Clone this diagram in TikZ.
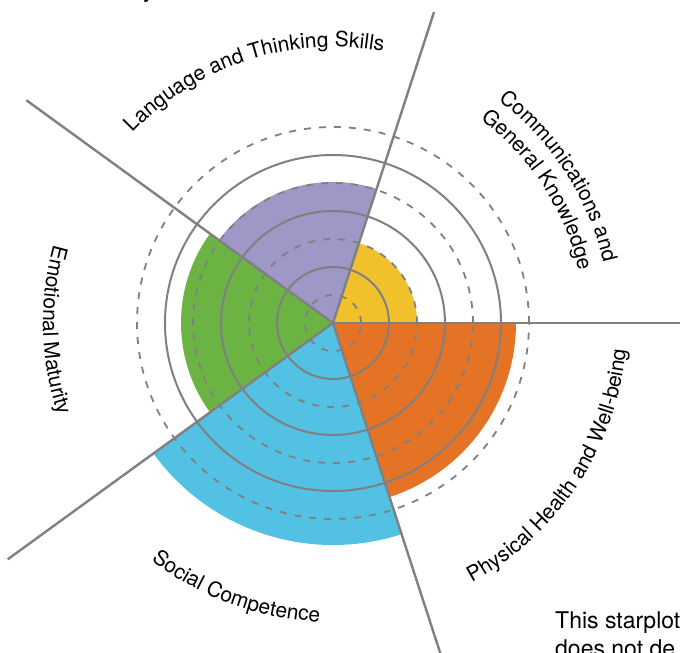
\documentclass[tikz,border=0pt]{standalone}
\usepackage{fontspec}
\setsansfont{TeX Gyre Heros}
\usetikzlibrary{decorations.text}

\definecolor{gridgray}{HTML}{808080}
\definecolor{commyellow}{HTML}{F0C12B}
\definecolor{langpurple}{HTML}{9E98C6}
\definecolor{emogreen}{HTML}{6BB444}
\definecolor{socblue}{HTML}{52C1E4}
\definecolor{physorange}{HTML}{E57325}

\newcommand{\lblfont}{\fontsize{21}{25}\selectfont\sffamily}

\begin{document}
\begin{tikzpicture}[
	x=1pt, y=1pt,
	font=\sffamily,
	grid-solid/.style={draw=gridgray, line width=2pt},
	grid-dash/.style={draw=gridgray, line width=1.8pt, dash pattern=on 7pt off 8pt},
	axis/.style={draw=gridgray, line width=2.4pt},
	curved-label/.style={decorate, decoration={text along path, text align=center, text={|\lblfont|#1}}},
	note-text/.style={anchor=base west, inner sep=0pt, font=\fontsize{23}{27.6}\selectfont\sffamily}
	]
	
	\useasboundingbox (-333,-330) rectangle (347,323);
	\clip (-333,-330) rectangle (347,323);
	\coordinate (ctr) at (0,0);
	
	% Sectors
	\fill[commyellow] (ctr) -- (0:84) arc[start angle=0, end angle=72, radius=84] -- cycle;
	\fill[langpurple] (ctr) -- (72:141) arc[start angle=72, end angle=144, radius=141] -- cycle;
	\fill[emogreen] (ctr) -- (144:152) arc[start angle=144, end angle=216, radius=152] -- cycle;
	\fill[socblue] (ctr) -- (216:222) arc[start angle=216, end angle=288, radius=222] -- cycle;
	\fill[physorange] (ctr) -- (288:183) arc[start angle=288, end angle=360, radius=183] -- cycle;
	
	% Rings
	\foreach \r in {56,112,168}
		\draw[grid-solid] (ctr) circle[radius=\r];
	\foreach \r in {28,84,140,196}
		\draw[grid-dash] (ctr) circle[radius=\r];
	
	% Axes
	\coordinate (ax_comm) at (0:360);
	\coordinate (ax_lang) at (72:327);
	\coordinate (ax_emo) at (144:379);
	\coordinate (ax_soc) at (216:402);
	\coordinate (ax_phys) at (288:360);
	\foreach \a in {ax_comm, ax_lang, ax_emo, ax_soc, ax_phys}
		\draw[axis] (ctr) -- (\a);
	
	% Labels
	\path[curved-label=Language and Thinking Skills] (136:276) arc[start angle=136, end angle=80, radius=276];
	\path[curved-label=Communications and] (62:277) arc[start angle=62, end angle=4, radius=277];
	\path[curved-label=General Knowledge] (62:251) arc[start angle=62, end angle=4, radius=251];
	\path[curved-label=Emotional Maturity] (160:290) arc[start angle=160, end angle=203, radius=290];
	\path[curved-label=Social Competence] (224:299) arc[start angle=224, end angle=276, radius=299];
	\path[curved-label=Physical Health and Well-being] (297:294) arc[start angle=297, end angle=356, radius=294];
	
	% Cut-off text
	\node[note-text] (top_line) at (-190,325) {y};
	\node[note-text] (note_a) at (222,-305) {This starplot};
	\node[note-text] (note_b) at (222,-333) {does not de};
	
\end{tikzpicture}
\end{document}
